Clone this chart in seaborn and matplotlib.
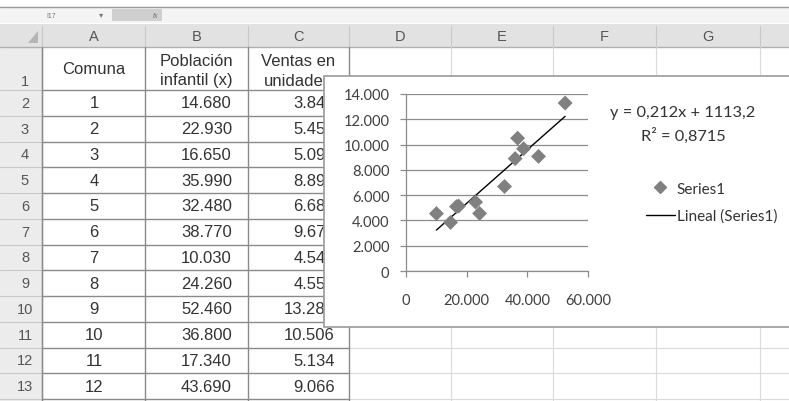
import numpy as np
import pandas as pd
import matplotlib
matplotlib.use("Agg")
import matplotlib.pyplot as plt
import seaborn as sns
from matplotlib.patches import Rectangle, Polygon
from matplotlib.lines import Line2D
from matplotlib.ticker import FuncFormatter

# table data (column C partly hidden by the chart)
comuna = [1, 2, 3, 4, 5, 6, 7, 8, 9, 10, 11, 12]
poblacion = [14680, 22930, 16650, 35990, 32480, 38770, 10030, 24260, 52460, 36800, 17340, 43690]
ventas = [3843, 5452, 5094, 8890, 6684, 9673, 4541, 4554, 13285, 10506, 5134, 9066]
col_letters = ["A", "B", "C", "D", "E", "F", "G"]
y_ticks = [0, 2000, 4000, 6000, 8000, 10000, 12000, 14000]
x_ticks = [0, 20000, 40000, 60000]
equation = "y = 0,212x + 1113,2"
r2_text = "R² = 0,8715"

W, H = 789, 402
col_edges = [42, 145, 248, 349, 451, 553, 656, 760, 789]
row_top = 91
row_h = 25.75

sns.set_theme(style="white")
plt.rcParams['font.family'] = ['Liberation Sans', 'DejaVu Sans']
chart_font = ["Lato", "DejaVu Sans"]

fig = plt.figure(figsize=(W / 100, H / 100), dpi=100)
fig.patch.set_facecolor("white")

bg = fig.add_axes([0, 0, 1, 1])
bg.set_xlim(0, W)
bg.set_ylim(H, 0)
bg.axis("off")


def num(v):
    return f"{v:,}".replace(",", ".")


# formula bar
bg.add_patch(Rectangle((0, 8), W, 16, facecolor="#f4f4f4", edgecolor="none"))
bg.plot([0, W], [8, 8], color="#9a9a9a", lw=1)
bg.add_patch(Rectangle((112, 10), 50, 12, facecolor="#cfcfcf", edgecolor="none"))
bg.text(46, 16, "I17", fontsize=5, color="#777", va="center")
bg.text(101, 16, "▾", fontsize=6, color="#777", va="center", ha="center")
bg.text(153, 16, "fx", fontsize=5, color="#777", va="center", style="italic")

# column header row
bg.add_patch(Rectangle((0, 25), W, 23, facecolor="#e2e2e2", edgecolor="none"))
bg.plot([0, W], [48, 48], color="#b0b0b0", lw=1)
bg.add_patch(Polygon([[28, 44], [38, 44], [38, 32]], closed=True,
                     facecolor="#b5b5b5", edgecolor="none"))
for i, letter in enumerate(col_letters):
    cx = (col_edges[i] + col_edges[i + 1]) / 2
    bg.text(cx, 37, letter, ha="center", va="center", fontsize=10.5, color="#555")
for x in col_edges[:-1]:
    bg.plot([x, x], [27, 48], color="#c8c8c8", lw=0.8)

# row header column
bg.add_patch(Rectangle((0, 48), 42, H - 48, facecolor="#ececec", edgecolor="none"))
bg.plot([42, 42], [48, H], color="#b0b0b0", lw=1)
bg.text(25, 82, "1", ha="center", va="center", fontsize=10.5, color="#555")
for r in range(12):
    yc = row_top + row_h * (r + 0.5)
    bg.text(25, yc, str(r + 2), ha="center", va="center", fontsize=10.5, color="#555")

# light grid of the empty cells
for r in range(13):
    y = row_top + row_h * r
    bg.plot([349, W], [y, y], color="#dadada", lw=0.8)
    bg.plot([0, 42], [y, y], color="#c8c8c8", lw=0.8)
for x in col_edges[4:-1]:
    bg.plot([x, x], [48, H], color="#dadada", lw=0.8)

# table borders A-C
for r in range(13):
    y = row_top + row_h * r
    bg.plot([42, 349], [y, y], color="#8a8a8a", lw=1)
for x in col_edges[:4]:
    bg.plot([x, x], [48, H], color="#8a8a8a", lw=1)

# table texts
bg.text(94, 70, "Comuna", ha="center", va="center", fontsize=12, color="#333")
bg.text(196, 61, "Población", ha="center", va="center", fontsize=12, color="#333")
bg.text(196, 81, "infantil (x)", ha="center", va="center", fontsize=12, color="#333")
bg.text(298, 61, "Ventas en", ha="center", va="center", fontsize=12, color="#333")
bg.text(298, 81, "unidades", ha="center", va="center", fontsize=12, color="#333")
for r in range(12):
    yc = row_top + row_h * (r + 0.5)
    bg.text(94, yc, str(comuna[r]), ha="center", va="center", fontsize=12, color="#333")
    bg.text(232, yc, num(poblacion[r]), ha="right", va="center", fontsize=12, color="#333")
    bg.text(335, yc, num(ventas[r]), ha="right", va="center", fontsize=12, color="#333")

# chart area box, on top of the cells
bg.add_patch(Rectangle((324, 77), 480, 251, facecolor="white",
                       edgecolor="#9a9a9a", lw=1.2, zorder=10))

df = pd.DataFrame({"x": poblacion, "y": ventas})

ax = fig.add_axes([406 / W, 1 - 272 / H, 182 / W, 177 / H])
ax.set_facecolor("none")
sns.regplot(data=df, x="x", y="y", ax=ax, scatter=False, ci=None, truncate=True,
            line_kws={"color": "black", "lw": 1.0, "zorder": 3})
sns.scatterplot(data=df, x="x", y="y", ax=ax, marker="D", s=58, color="#808080",
                edgecolor="none", zorder=4)
ax.set_xlim(0, 60000)
ax.set_ylim(0, 14000)
ax.set_xticks(x_ticks)
ax.set_yticks(y_ticks)
ax.yaxis.set_major_formatter(FuncFormatter(lambda v, p: num(int(v))))
ax.xaxis.set_major_formatter(FuncFormatter(lambda v, p: num(int(v))))
ax.grid(axis="y", color="#8c8c8c", lw=0.9)
ax.set_axisbelow(True)
for s in ["top", "right"]:
    ax.spines[s].set_visible(False)
for s in ["left", "bottom"]:
    ax.spines[s].set_color("#8c8c8c")
    ax.spines[s].set_linewidth(0.9)
ax.tick_params(axis="both", which="major", length=4, width=0.9, color="#8c8c8c",
               direction="out", left=True, bottom=True, labelsize=10.5,
               labelcolor="#404040")
ax.tick_params(axis="y", pad=8)
ax.tick_params(axis="x", pad=12)
for lab in ax.get_xticklabels() + ax.get_yticklabels():
    lab.set_fontfamily(chart_font)
ax.set_xlabel("")
ax.set_ylabel("")

# trendline equation and legend
bg.text(683, 113, equation, ha="center", va="center", fontsize=11.8,
        color="#333", family=chart_font, zorder=11)
bg.text(683, 136, r2_text, ha="center", va="center", fontsize=11.8,
        color="#333", family=chart_font, zorder=11)
handles = [Line2D([], [], marker="D", ls="none", color="#808080", markersize=6),
           Line2D([], [], color="black", lw=1.0)]
leg = fig.legend(handles, ["Series1", "Lineal (Series1)"], loc="upper left",
                 bbox_to_anchor=(641 / W, 1 - 178 / H), frameon=False,
                 handlelength=1.9, handletextpad=0.15, labelspacing=0.85,
                 borderaxespad=0, borderpad=0.3,
                 prop={"family": chart_font, "size": 11})
for t in leg.get_texts():
    t.set_color("#333")

fig.savefig("out.png", dpi=100)
